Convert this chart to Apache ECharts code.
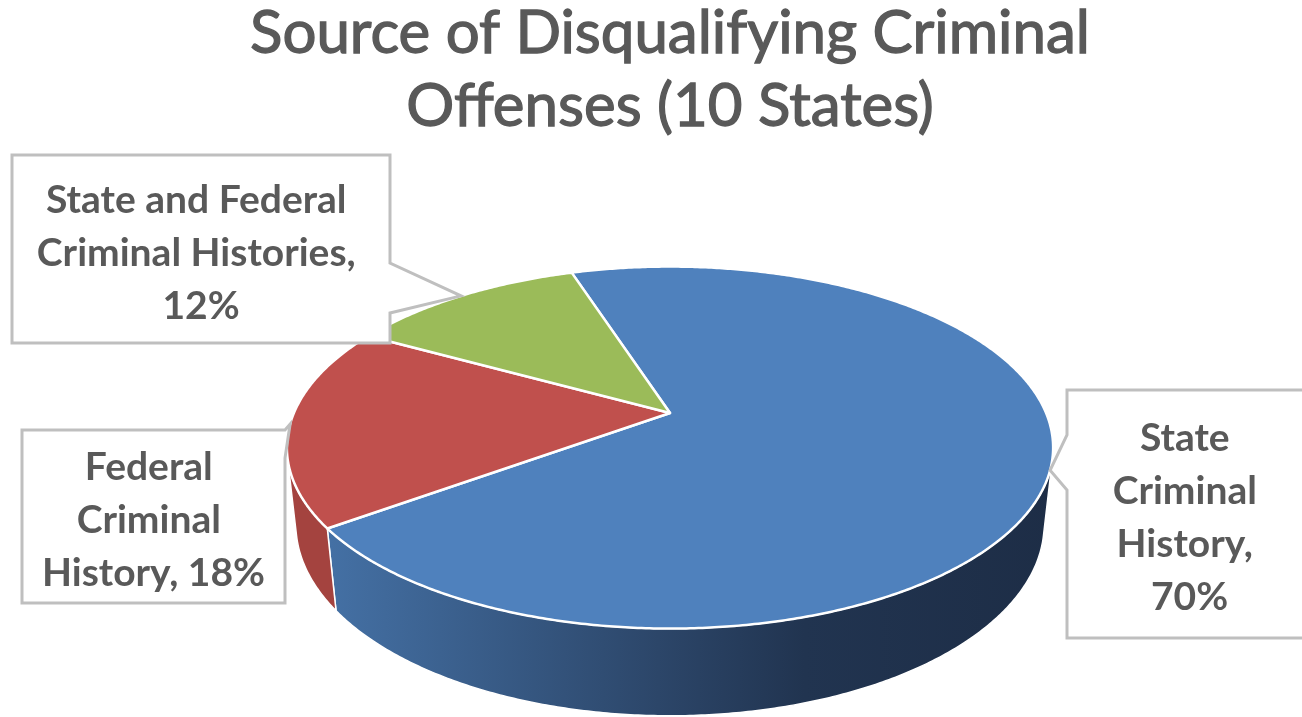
<!DOCTYPE html>
<html>
<head>
<meta charset="utf-8">
<script src="https://cdn.jsdelivr.net/npm/echarts@6/dist/echarts.min.js"></script>
<style>
  html, body { margin: 0; padding: 0; background: #ffffff; }
  #chart { width: 1302px; height: 717px; }
</style>
</head>
<body>
<div id="chart"></div>
<script>
// ---- data ----
const chartTitle = 'Source of Disqualifying Criminal\nOffenses (10 States)';
const categories = ['State Criminal History', 'Federal Criminal History', 'State and Federal Criminal Histories'];
const shares = [70, 18, 12];

// ---- styling ----
const topColors = ['#4f81bd', '#c0504d', '#9bbb59'];
const sideFills = [
  { type: 'linear', x: 330, y: 0, x2: 1060, y2: 0, global: true,
    colorStops: [
      { offset: 0, color: '#4470a4' },
      { offset: 0.45, color: '#2c4669' },
      { offset: 0.65, color: '#213450' },
      { offset: 1, color: '#1d2d46' }
    ] },
  '#a4433f',
  '#7f9a47'
];
const textColor = '#595959';
const labelFont = 'bold 39px Lato';

// 3D disc projection (perspective camera looking down at the pie)
const view = {
  cx: 670, cy: 413,          // screen position of the pie centre
  focal: 1745,               // focal length in px (radius = 1)
  dist: 4.64,                // camera distance in radii
  tilt: Math.asin(0.4637),   // tilt of the disc toward the viewer
  depth: 0.233,              // thickness of the disc in radii
  startAngle: -18            // first slice starts here, clockwise from the back
};

// callout boxes: rectangle, edge carrying the pointer, pointer base span, text centre
const callouts = [
  { x0: 1067, y0: 390, x1: 1312, y1: 638, edge: 'left',  b0: 435, b1: 490, ty: 518, wrap: 215 },
  { x0: 22,   y0: 430, x1: 285,  y1: 603, edge: 'right', b0: 430, b1: 458, ty: 520, wrap: 255 },
  { x0: 12,   y0: 155, x1: 390,  y1: 343, edge: 'right', b0: 263, b1: 313, ty: 253, wrap: 345 }
];

function project(thetaDeg, y) {
  const t = thetaDeg * Math.PI / 180;
  const sa = Math.sin(view.tilt), ca = Math.cos(view.tilt);
  const x = Math.sin(t), z = Math.cos(t);
  const yc = y * ca + z * sa;
  const zc = view.dist + z * ca - y * sa;
  return [view.cx + view.focal * x / zc, view.cy - view.focal * yc / zc];
}

function arcPoints(a0, a1, y) {
  const pts = [];
  const n = Math.max(2, Math.ceil(Math.abs(a1 - a0) / 0.5));
  for (let i = 0; i <= n; i++) pts.push(project(a0 + (a1 - a0) * i / n, y));
  return pts;
}

// the outer wall faces the camera where cos(theta) < -1 / (dist * cos(tilt))
const visAngle = Math.acos(-1 / (view.dist * Math.cos(view.tilt))) * 180 / Math.PI;
const visRange = [visAngle, 360 - visAngle];

const total = shares.reduce((a, b) => a + b, 0);

function renderSlice(params, api) {
  const i = params.dataIndex;
  const value = api.value(0);
  let before = 0;
  for (let k = 0; k < i; k++) before += shares[k];
  const a0 = view.startAngle + 360 * before / total;
  const a1 = a0 + 360 * value / total;
  const children = [];

  // outer wall, visible part only
  const s0 = Math.max(a0, visRange[0]);
  const s1 = Math.min(a1, visRange[1]);
  if (s1 > s0) {
    const topRim = arcPoints(s0, s1, 0);
    const botRim = arcPoints(s1, s0, -view.depth);
    children.push({
      type: 'polygon', z2: 1,
      shape: { points: topRim.concat(botRim) },
      style: { fill: sideFills[i], stroke: '#ffffff', lineWidth: 1.5 }
    });
  }

  // top face
  const face = [[view.cx, view.cy]];
  children.push({
    type: 'polygon', z2: 5,
    shape: { points: face.concat(arcPoints(a0, a1, 0)) },
    style: { fill: topColors[i], stroke: '#ffffff', lineWidth: 2.5, lineJoin: 'round' }
  });

  // callout box with pointer at the rim, mid-slice
  const c = callouts[i];
  const tip = project((a0 + a1) / 2, 0);
  let pts;
  if (c.edge === 'right') {
    pts = [[c.x0, c.y0], [c.x1, c.y0], [c.x1, c.b0], tip, [c.x1, c.b1], [c.x1, c.y1], [c.x0, c.y1]];
  } else {
    pts = [[c.x0, c.y0], [c.x1, c.y0], [c.x1, c.y1], [c.x0, c.y1], [c.x0, c.b1], tip, [c.x0, c.b0]];
  }
  children.push({
    type: 'polygon', z2: 20,
    shape: { points: pts },
    style: { fill: '#ffffff', stroke: '#bfbfbf', lineWidth: 3, lineJoin: 'miter' }
  });
  const pct = Math.round(100 * value / total);
  children.push({
    type: 'text', z2: 21,
    style: {
      text: categories[i] + ', ' + pct + '%',
      x: (c.x0 + c.x1) / 2, y: c.ty,
      align: 'center', verticalAlign: 'middle',
      font: labelFont, fill: textColor,
      width: c.wrap, overflow: 'break', lineHeight: 53
    }
  });

  return { type: 'group', children: children };
}

const chart = echarts.init(document.getElementById('chart'), null, { renderer: 'canvas' });
chart.setOption({
  animation: false,
  backgroundColor: '#ffffff',
  title: {
    text: chartTitle,
    left: 665, top: -8,
    textAlign: 'center',
    textStyle: {
      fontFamily: 'Lato', fontSize: 60, fontWeight: 'normal', color: textColor, lineHeight: 73,
      textBorderColor: textColor, textBorderWidth: 1.3
    }
  },
  series: [{
    type: 'custom',
    coordinateSystem: 'none',
    data: shares.map(v => [v]),
    renderItem: renderSlice
  }]
});
</script>
</body>
</html>
